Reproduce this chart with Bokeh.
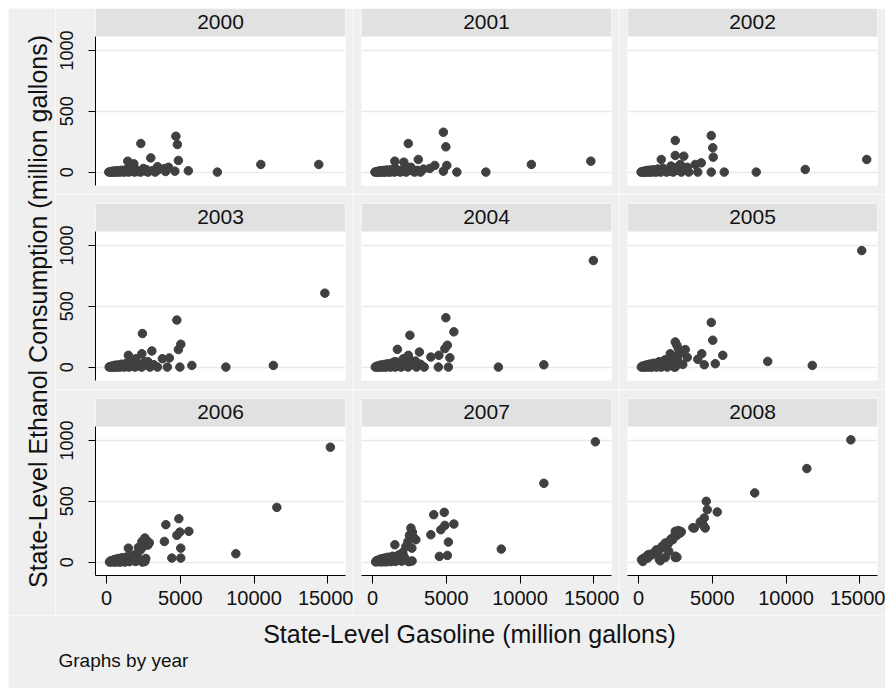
import math
from bokeh.plotting import figure
from bokeh.models import Range1d, FixedTicker, BoxAnnotation, Label
from bokeh.layouts import row, column
from bokeh.embed import file_html
from bokeh.resources import INLINE

# ---------------- data ----------------
years = [2000, 2001, 2002, 2003, 2004, 2005, 2006, 2007, 2008]
x_ticks = [0, 5000, 10000, 15000]
y_ticks = [0, 500, 1000]

gas_2000 = [2325, 4700, 4800, 3000, 1440, 4870, 1850, 3950, 4630, 5545, 7512, 10460, 14390, 3460, 2700,
            150, 250, 300, 350, 400, 420, 450, 500, 600, 650, 700, 750, 800, 900, 1000, 1100, 1200, 1300, 1400, 1500,
            1600, 1700, 1900, 2000, 2100, 2300, 2500, 2600, 2800, 3100, 3300, 3500, 4000, 4200]
eth_2000 = [235, 295, 227, 117, 90, 96, 68, 30, 8, 11, 0, 63, 63, 45, 20,
            0, 2, 0, 5, 0, 3, 8, 0, 10, 2, 0, 12, 5, 0, 15, 3, 0, 20, 5, 0,
            25, 8, 0, 18, 5, 0, 30, 10, 0, 12, 0, 20, 5, 40]

gas_2001 = [4800, 2421, 4970, 3100, 1512, 2122, 4220, 5034, 3880, 4800, 5716, 7682, 10767, 14800, 2600,
            160, 240, 310, 360, 390, 430, 460, 520, 580, 640, 710, 760, 820, 880, 980, 1080, 1180, 1280, 1380, 1480,
            1580, 1720, 1880, 2020, 2150, 2280, 2480, 2650, 2850, 3050, 3250, 3450]
eth_2001 = [328, 235, 208, 104, 90, 82, 55, 55, 30, 8, 0, 0, 63, 90, 40,
            0, 3, 0, 6, 0, 2, 9, 0, 12, 3, 0, 14, 4, 0, 18, 2, 0, 22, 6, 0,
            28, 9, 0, 20, 6, 0, 35, 12, 0, 15, 0, 25]

gas_2002 = [4929, 2488, 5030, 5064, 2488, 3065, 1539, 2827, 3844, 4250, 4013, 4929, 5810, 7980, 11302, 15472, 2200, 3300,
            170, 230, 320, 370, 400, 440, 470, 530, 590, 660, 720, 770, 830, 890, 1000, 1100, 1200, 1300, 1400, 1500,
            1650, 1750, 1900, 2050, 2150, 2350, 2550, 2700, 2900, 3150, 3400]
eth_2002 = [300, 260, 200, 123, 137, 131, 104, 63, 63, 76, 0, 0, 0, 0, 22, 104, 50, 40,
            0, 4, 0, 7, 0, 3, 10, 0, 14, 4, 0, 16, 5, 0, 20, 3, 0, 25, 8, 0,
            32, 12, 0, 22, 8, 0, 38, 15, 0, 18, 0]

gas_2003 = [14800, 4766, 2430, 5035, 4868, 3071, 1478, 2393, 1985, 3783, 4257, 4120, 4970, 5783, 8089, 11310, 2800, 1700,
            180, 240, 330, 380, 410, 450, 480, 540, 600, 670, 730, 780, 840, 900, 1010, 1110, 1210, 1310, 1410, 1520,
            1660, 1780, 1920, 2080, 2200, 2380, 2580, 2720, 2950, 3200, 3450]
eth_2003 = [608, 387, 276, 188, 144, 133, 97, 110, 69, 69, 75, 0, 0, 14, 0, 14, 45, 40,
            0, 5, 0, 8, 0, 4, 12, 0, 16, 5, 0, 18, 6, 0, 24, 4, 0, 30, 10, 0,
            36, 14, 0, 26, 10, 0, 44, 18, 0, 20, 0]

gas_2004 = [14970, 4970, 5512, 2530, 5071, 4902, 1684, 3175, 3953, 4495, 2427, 5240, 2088, 4461, 5140, 8530, 11614, 2900, 1500,
            185, 245, 335, 385, 415, 455, 490, 550, 610, 680, 740, 790, 850, 910, 1020, 1120, 1220, 1320, 1420, 1530,
            1670, 1790, 1930, 2100, 2220, 2400, 2600, 2750, 2980, 3250, 3500]
eth_2004 = [876, 406, 290, 262, 180, 152, 146, 124, 83, 97, 97, 77, 69, 0, 0, 0, 19, 50, 45,
            0, 6, 0, 10, 0, 5, 14, 0, 18, 6, 0, 22, 8, 0, 28, 5, 0, 34, 12, 0,
            40, 16, 0, 30, 12, 0, 50, 20, 0, 24, 0]

gas_2005 = [15133, 4929, 5030, 2488, 3166, 2658, 2150, 4284, 5708, 4013, 4454, 5200, 8760, 11780, 2488, 2700, 2600, 1800, 1400, 2900,
            3300, 2350,
            190, 250, 340, 390, 420, 460, 500, 560, 620, 690, 750, 800, 860, 920, 1030, 1130, 1230, 1330, 1430, 1540,
            1680, 1800, 1950, 2120, 2250, 2420, 2650, 3000]
eth_2005 = [958, 367, 221, 207, 144, 97, 110, 110, 97, 64, 19, 28, 47, 14, 0, 150, 180, 60, 45, 120,
            80, 75,
            0, 8, 0, 12, 2, 6, 16, 0, 20, 8, 0, 26, 10, 0, 32, 6, 0, 38, 14, 0,
            45, 18, 0, 34, 14, 0, 55, 22]

gas_2006 = [15174, 11546, 8766, 4902, 4020, 5580, 4970, 4766, 3920, 5030, 4426, 5030, 2597, 2597, 2900, 2156, 1478, 2597, 2400, 2800,
            2300, 1900, 2700, 2500,
            200, 260, 350, 400, 430, 470, 510, 570, 630, 700, 760, 810, 870, 930, 1040, 1140, 1240, 1340, 1440, 1550,
            1690, 1810, 1960, 2130, 2260, 2430, 2660]
eth_2006 = [945, 450, 69, 357, 308, 253, 247, 220, 170, 115, 33, 33, 198, 157, 160, 121, 115, 5, 170, 140,
            100, 60, 180, 130,
            0, 10, 2, 14, 4, 8, 20, 0, 24, 10, 2, 30, 12, 0, 36, 8, 0, 42, 16, 4,
            48, 20, 5, 38, 16, 0, 30]

gas_2007 = [15107, 11614, 8727, 4861, 4149, 5512, 4902, 4631, 3953, 2699, 2936, 5140, 2665, 1512, 2258, 4529, 5071, 2530, 2600, 2500,
            2800, 2050, 1800, 2400,
            210, 270, 360, 410, 440, 480, 520, 580, 640, 710, 770, 820, 880, 940, 1050, 1150, 1250, 1350, 1450, 1560,
            1700, 1820, 1970, 2140, 2270, 2440, 2680]
eth_2007 = [989, 648, 107, 409, 390, 313, 302, 266, 225, 247, 184, 165, 115, 143, 129, 47, 55, 5, 280, 220,
            200, 80, 60, 170,
            2, 12, 4, 18, 6, 10, 24, 2, 28, 12, 4, 34, 14, 2, 40, 10, 4, 48, 20, 6,
            52, 24, 8, 44, 18, 4, 10]

gas_2008 = [14393, 11410, 7875, 4590, 5336, 4658, 4454, 4183, 3776, 4522, 4400, 4300, 2827, 2488, 2700, 2600, 2319, 2100, 1810, 1600,
            1302, 1302, 1100, 2488, 2600, 1810, 1471, 623, 288, 900, 1000, 500, 400, 700, 800, 1500, 2000, 2200, 3681, 2502,
            1411, 2045, 200, 300, 350, 450, 600, 650, 1200, 2900, 2750, 2400]
eth_2008 = [1005, 769, 569, 500, 412, 431, 363, 330, 280, 280, 300, 320, 239, 253, 260, 220, 184, 170, 157, 130,
            102, 74, 80, 38, 40, 38, 11, 33, 5, 60, 70, 40, 30, 50, 65, 110, 150, 190, 283, 49,
            22, 90, 20, 28, 30, 38, 55, 60, 100, 250, 240, 210]

gasoline = [gas_2000, gas_2001, gas_2002, gas_2003, gas_2004, gas_2005, gas_2006, gas_2007, gas_2008]
ethanol = [eth_2000, eth_2001, eth_2002, eth_2003, eth_2004, eth_2005, eth_2006, eth_2007, eth_2008]

y_title = "State-Level Ethanol Consumption (million gallons)"
x_title = "State-Level Gasoline (million gallons)"
note = "Graphs by year"

# ---------------- style ----------------
FONT = "Liberation Sans"
BG = "#efefef"
HDR = "#e1e1e1"
DOT = "#404040"
XMIN, XMAX = -750, 16200
YMIN, YTOP = -110, 1115       # plot region
YHDR = 1345                  # top incl. header strip

FRAME_W = 250
FRAME_H = 177


def panel(i):
    r, c = divmod(i, 3)
    left = 40 if c == 0 else 8
    right = 8
    top = 0 if r == 0 else 9
    bottom = 40 if r == 2 else 9
    p = figure(width=left + FRAME_W + right, height=top + FRAME_H + bottom,
               x_range=Range1d(XMIN, XMAX), y_range=Range1d(YMIN, YHDR),
               output_backend="svg", toolbar_location=None,
               min_border_left=left, min_border_right=right,
               min_border_top=top, min_border_bottom=bottom)
    p.background_fill_color = "white"
    p.border_fill_color = BG
    p.outline_line_color = None

    p.xgrid.visible = False
    p.ygrid.ticker = FixedTicker(ticks=y_ticks)
    p.ygrid.grid_line_color = "#eaeaea"
    p.ygrid.grid_line_width = 1.5

    for ax, ticks, out, fs in ((p.xaxis[0], x_ticks, 8, "20px"), (p.yaxis[0], y_ticks, 7, "18px")):
        ax.ticker = FixedTicker(ticks=ticks)
        ax.axis_line_color = "black"
        ax.major_tick_line_color = "black"
        ax.minor_tick_line_color = None
        ax.major_tick_in = 0
        ax.major_tick_out = out
        ax.major_label_text_font = FONT
        ax.major_label_text_font_size = fs
        ax.major_label_text_color = "#111111"
    p.xaxis.major_label_standoff = 7
    p.yaxis.major_label_standoff = 15
    p.yaxis.major_label_orientation = "vertical"
    p.yaxis.bounds = (YMIN, YTOP)
    p.xaxis.visible = (r == 2)
    p.yaxis.visible = (c == 0)

    p.add_layout(BoxAnnotation(bottom=YTOP, fill_color=HDR, fill_alpha=1.0,
                               line_color=None))
    p.add_layout(Label(x=(XMIN + XMAX) / 2, y=(YTOP + YHDR) / 2, text=str(years[i]),
                       text_align="center", text_baseline="middle",
                       text_font=FONT, text_font_size="21px", text_color="#111111"))
    p.scatter(gasoline[i], ethanol[i], size=8.5, color=DOT, line_color=DOT)
    return p


panels = [panel(i) for i in range(9)]
grid_h = sum(pp.height for pp in panels[0::3])

left_fig = figure(width=47, height=grid_h, x_range=Range1d(0, 47), y_range=Range1d(grid_h, 0),
                  output_backend="svg", toolbar_location=None,
                  x_axis_location=None, y_axis_location=None, min_border=0)
left_fig.grid.visible = False
left_fig.outline_line_color = None
left_fig.background_fill_color = BG
left_fig.border_fill_color = BG
left_fig.add_layout(Label(x=29, y=303, text=y_title, angle=math.pi / 2,
                          text_align="center", text_baseline="middle",
                          text_font=FONT, text_font_size="25px", text_color="#111111"))

bottom_fig = figure(width=877, height=73, x_range=Range1d(0, 877), y_range=Range1d(73, 0),
                    output_backend="svg", toolbar_location=None,
                    x_axis_location=None, y_axis_location=None, min_border=0)
bottom_fig.grid.visible = False
bottom_fig.outline_line_color = None
bottom_fig.background_fill_color = BG
bottom_fig.border_fill_color = BG
bottom_fig.add_layout(Label(x=461, y=18, text=x_title, text_align="center",
                            text_baseline="middle", text_font=FONT,
                            text_font_size="25px", text_color="#111111"))
bottom_fig.add_layout(Label(x=50, y=45, text=note, text_align="left",
                            text_baseline="middle", text_font=FONT,
                            text_font_size="19px", text_color="#111111"))

grid = column(row(*panels[0:3]), row(*panels[3:6]), row(*panels[6:9]))
layout = column(row(left_fig, grid), bottom_fig, margin=(8, 8, 8, 8))

open("out.html", "w").write(file_html(layout, INLINE))
